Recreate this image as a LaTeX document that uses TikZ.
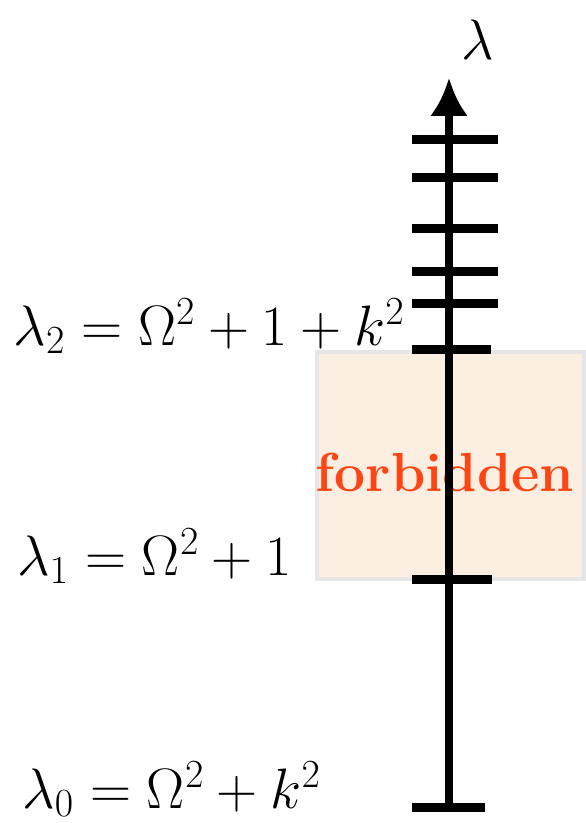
\RequirePackage{fix-cm}
\documentclass[tikz,border=0pt]{standalone}
\usetikzlibrary{arrows.meta}
\begin{document}
\begin{tikzpicture}[x=0.5pt,y=-0.5pt,
        axisline/.style={line width=4pt,-{Latex[length=19pt,width=19pt]}},
        tickmark/.style={line width=4.5pt},
        levellabel/.style={font=\fontsize{28.5}{32}\selectfont,inner sep=0pt}]
    \useasboundingbox (0,0) rectangle (585,823);
    \coordinate (bot) at (449,807);
    \coordinate (top) at (449,78);
    \fill[fill={rgb,255:red,253;green,238;blue,226},draw={rgb,255:red,230;green,230;blue,230},line width=2pt]
        (317,352) rectangle (584,579);
    \node[text={rgb,255:red,255;green,69;blue,19},font=\fontsize{27.5}{31}\selectfont\bfseries] (forb) at (445,472) {forbidden};
    \draw[axisline] (bot) -- (top);
    \node[anchor=center,font=\fontsize{28.5}{32}\selectfont] (lam) at (478,40) {$\lambda$};
    \foreach \y/\r in {140/498,178/498,229/498,272/498,304/498,349/491,579/492,807/485}
        \draw[tickmark] (412,\y) -- (\r,\y);
    \node[levellabel,anchor=base east] (l2) at (405,345) {$\lambda_2=\Omega^2+1+k^2$};
    \node[levellabel,anchor=base west] (l1) at (17,575) {$\lambda_1=\Omega^2+1$};
    \node[levellabel,anchor=base west] (l0) at (22,808) {$\lambda_0=\Omega^2+k^2$};
\end{tikzpicture}
\end{document}
